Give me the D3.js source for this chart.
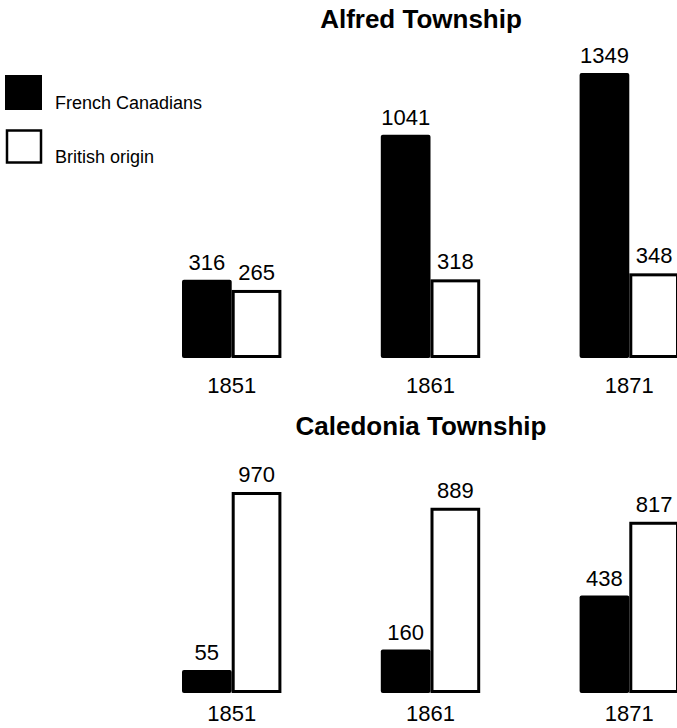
<!DOCTYPE html>
<html>
<head>
<meta charset="utf-8">
<script src="https://cdn.jsdelivr.net/npm/d3@7"></script>
<style>
  html, body { margin: 0; padding: 0; background: #fff; }
  svg { display: block; font-family: "Liberation Sans", Arial, Helvetica, sans-serif; }
</style>
</head>
<body>
<svg id="chart" width="677" height="728"></svg>
<script>
// ---- data ----
const years = ["1851", "1861", "1871"];
const seriesNames = ["French Canadians", "British origin"];
const alfredFrench = [316, 1041, 1349];
const alfredBritish = [265, 318, 348];
const caledoniaFrench = [55, 160, 438];
const caledoniaBritish = [970, 889, 817];
const panelTitles = ["Alfred Township", "Caledonia Township"];

const svg = d3.select("#chart");

const x = d3.scaleBand().domain(years).range([182, 679]).paddingInner(0.5).paddingOuter(0);
const xs = d3.scaleBand().domain(seriesNames).range([0, x.bandwidth()]).padding(0);

const fills = { "French Canadians": "#000", "British origin": "#fff" };

const panels = [
  { title: panelTitles[0], french: alfredFrench, british: alfredBritish,
    titleY: 28, base: 358, top: 73, dmin: -75, yearY: 393 },
  { title: panelTitles[1], french: caledoniaFrench, british: caledoniaBritish,
    titleY: 435, base: 693, top: 492, dmin: -63, yearY: 721 }
];

panels.forEach(p => {
  const maxV = d3.max(p.french.concat(p.british));
  const y = d3.scaleLinear().domain([p.dmin, maxV]).range([p.base, p.top]);
  const g = svg.append("g");

  g.append("text")
    .attr("x", 421).attr("y", p.titleY)
    .attr("text-anchor", "middle")
    .attr("font-size", 26).attr("font-weight", "bold")
    .text(p.title);

  const rows = [];
  years.forEach((yr, i) => {
    rows.push({ year: yr, s: seriesNames[0], v: p.french[i] });
    rows.push({ year: yr, s: seriesNames[1], v: p.british[i] });
  });

  const sw = 3;
  g.selectAll("rect.bar").data(rows).enter().append("rect")
    .attr("class", "bar")
    .attr("x", d => x(d.year) + xs(d.s) + (d.s === seriesNames[1] ? sw / 2 : 0))
    .attr("width", d => xs.bandwidth() - (d.s === seriesNames[1] ? sw : 0))
    .attr("y", d => y(d.v) + (d.s === seriesNames[1] ? sw / 2 : 0))
    .attr("height", d => p.base - y(d.v) - (d.s === seriesNames[1] ? sw : 0))
    .attr("fill", d => fills[d.s])
    .attr("stroke", d => d.s === seriesNames[1] ? "#000" : "none")
    .attr("stroke-width", sw)
    .attr("rx", d => d.s === seriesNames[0] ? 2 : 0);

  g.selectAll("text.val").data(rows).enter().append("text")
    .attr("class", "val")
    .attr("x", d => x(d.year) + xs(d.s) + xs.bandwidth() / 2)
    .attr("y", d => y(d.v) - 10)
    .attr("text-anchor", "middle")
    .attr("font-size", 22)
    .text(d => d.v);

  g.selectAll("text.yr").data(years).enter().append("text")
    .attr("class", "yr")
    .attr("x", d => x(d) + x.bandwidth() / 2)
    .attr("y", p.yearY)
    .attr("text-anchor", "middle")
    .attr("font-size", 22)
    .text(d => d);
});

// ---- legend ----
const legend = svg.append("g");
const legY = [75, 129];
seriesNames.forEach((s, i) => {
  const isWhite = i === 1;
  legend.append("rect")
    .attr("x", isWhite ? 7 : 5)
    .attr("y", legY[i] + (isWhite ? 1.5 : 0))
    .attr("width", isWhite ? 34 : 37)
    .attr("height", isWhite ? 32 : 35)
    .attr("fill", fills[s])
    .attr("stroke", isWhite ? "#000" : "none")
    .attr("stroke-width", 2.5);
  legend.append("text")
    .attr("x", 55).attr("y", legY[i] + 34)
    .attr("font-size", 18)
    .text(s);
});
</script>
</body>
</html>
